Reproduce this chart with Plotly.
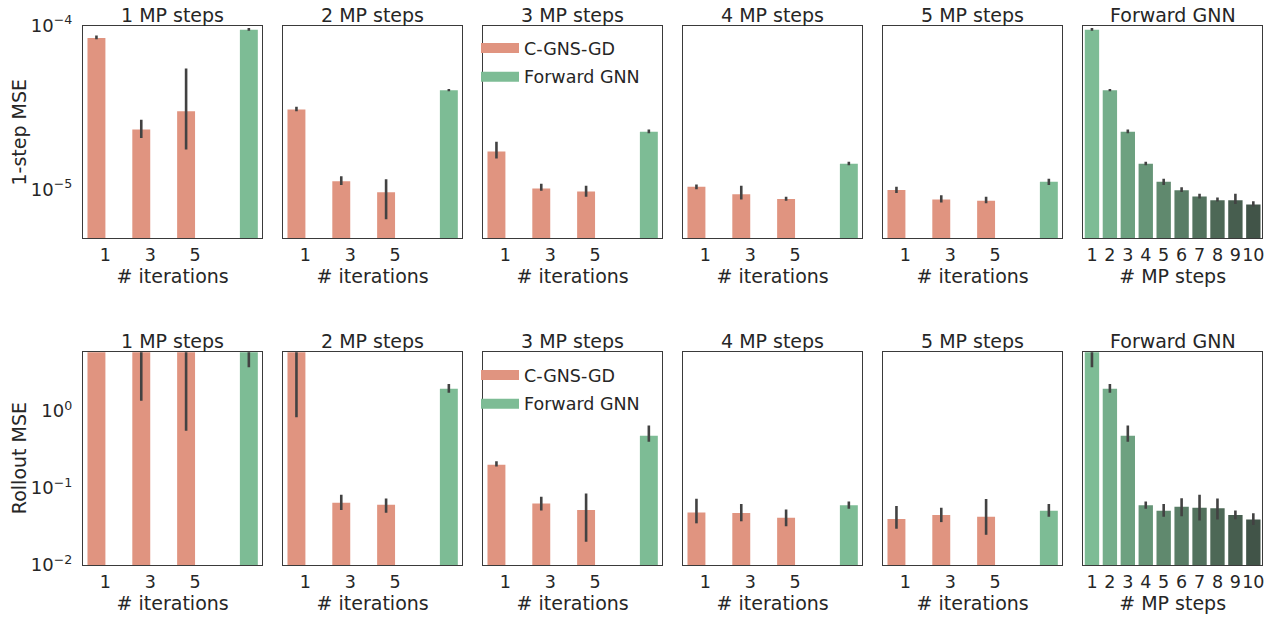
import plotly.graph_objects as go

# ---------------- data ----------------
mp_steps_panels = ["1 MP steps", "2 MP steps", "3 MP steps", "4 MP steps", "5 MP steps"]
iterations = ["1", "3", "5"]
fwd_category = "Forward"
fwd_mp_steps = ["1", "2", "3", "4", "5", "6", "7", "8", "9", "10"]

# 1-step MSE, C-GNS-GD (rows: MP steps 1..5, cols: iterations 1,3,5)
cgns_1step_mean = [[8.4e-5, 2.32e-5, 3.0e-5],
                   [3.07e-5, 1.12e-5, 9.6e-6],
                   [1.7e-5, 1.01e-5, 9.7e-6],
                   [1.035e-5, 9.33e-6, 8.73e-6],
                   [9.88e-6, 8.65e-6, 8.5e-6]]
cgns_1step_lo = [[8.25e-5, 2.06e-5, 1.75e-5],
                 [3.0e-5, 1.06e-5, 6.56e-6],
                 [1.54e-5, 9.8e-6, 9.0e-6],
                 [1.0e-5, 8.65e-6, 8.5e-6],
                 [9.5e-6, 8.3e-6, 8.2e-6]]
cgns_1step_hi = [[8.7e-5, 2.66e-5, 5.47e-5],
                 [3.2e-5, 1.2e-5, 1.15e-5],
                 [1.95e-5, 1.08e-5, 1.05e-5],
                 [1.07e-5, 1.05e-5, 9.0e-6],
                 [1.035e-5, 9.2e-6, 9.0e-6]]

# 1-step MSE, Forward GNN (MP steps 1..10)
fwd_1step_mean = [9.46e-5, 4.03e-5, 2.25e-5, 1.43e-5, 1.11e-5, 9.87e-6, 9.02e-6, 8.57e-6, 8.57e-6, 8.07e-6]
fwd_1step_lo = [9.3e-5, 3.97e-5, 2.2e-5, 1.4e-5, 1.06e-5, 9.63e-6, 8.77e-6, 8.4e-6, 8.13e-6, 7.85e-6]
fwd_1step_hi = [9.68e-5, 4.1e-5, 2.32e-5, 1.475e-5, 1.16e-5, 1.03e-5, 9.38e-6, 8.89e-6, 9.38e-6, 8.45e-6]

# Rollout MSE, C-GNS-GD
cgns_roll_mean = [[30.0, 12.0, 10.0],
                  [8.0, 0.0643, 0.0605],
                  [0.201, 0.063, 0.052],
                  [0.0483, 0.0473, 0.0411],
                  [0.0395, 0.0446, 0.0424]]
cgns_roll_lo = [[20.0, 1.37, 0.557],
                [0.83, 0.052, 0.0476],
                [0.191, 0.051, 0.0201],
                [0.0348, 0.037, 0.032],
                [0.0296, 0.0361, 0.0247]]
cgns_roll_hi = [[45.0, 25.0, 20.0],
                [20.0, 0.0817, 0.073],
                [0.224, 0.0769, 0.085],
                [0.0726, 0.062, 0.0528],
                [0.0584, 0.0555, 0.072]]

# Rollout MSE, Forward GNN
fwd_roll_mean = [6.5, 1.95, 0.48, 0.0596, 0.0507, 0.057, 0.0553, 0.0548, 0.0448, 0.0389]
fwd_roll_lo = [3.72, 1.73, 0.40, 0.054, 0.0424, 0.043, 0.0378, 0.039, 0.0394, 0.033]
fwd_roll_hi = [12.0, 2.26, 0.653, 0.0668, 0.062, 0.074, 0.0817, 0.073, 0.051, 0.047]

row_ylabels = ["1-step MSE", "Rollout MSE"]
row_tickvals = [[1e-5, 1e-4], [1e-2, 1e-1, 1e0]]
row_ticktext = [["10<sup>−5</sup>", "10<sup>−4</sup>"],
                ["10<sup>−2</sup>", "10<sup>−1</sup>", "10<sup>0</sup>"]]
row_log_range = [[-5.3, -4.0], [-2.0, 0.765]]
series_names = ["C-GNS-GD", "Forward GNN"]

# ---------------- style ----------------
W, H = 1276, 619
C_CGNS = "#E09480"
C_FWD = "#7DBC95"
fwd_palette = ["#7DBC95", "#75AE8B", "#6DA180", "#669577", "#60896E",
               "#597D66", "#53725E", "#4D6856", "#475E4F", "#415448"]
TXT = "#262626"
FONT = "DejaVu Sans"
ERR_C = "#424242"
LINE_C = "#3a3a3a"

col_left_px = [83 + 200 * i for i in range(6)]
col_w_px = 179.3
row_top_px = [25.7, 352.3]
row_bot_px = [238.3, 565.0]


def px_x(p):
    return p / W


def px_y(p):
    return 1 - p / H


fig = go.Figure()
layout_axes = {}
annotations = []

panel_idx = 0
for r in range(2):
    if r == 0:
        c_mean, c_lo, c_hi = cgns_1step_mean, cgns_1step_lo, cgns_1step_hi
        f_mean, f_lo, f_hi = fwd_1step_mean, fwd_1step_lo, fwd_1step_hi
    else:
        c_mean, c_lo, c_hi = cgns_roll_mean, cgns_roll_lo, cgns_roll_hi
        f_mean, f_lo, f_hi = fwd_roll_mean, fwd_roll_lo, fwd_roll_hi
    for c in range(6):
        panel_idx += 1
        sfx = "" if panel_idx == 1 else str(panel_idx)
        xa, ya = "x" + sfx, "y" + sfx
        if c < 5:
            m, lo, hi = c_mean[c], c_lo[c], c_hi[c]
            fig.add_trace(go.Bar(
                x=iterations, y=m, xaxis=xa, yaxis=ya,
                alignmentgroup="p%d" % panel_idx, offsetgroup="cgns",
                marker=dict(color=C_CGNS, line=dict(width=0)),
                error_y=dict(type="data", symmetric=False,
                             array=[h - v for h, v in zip(hi, m)],
                             arrayminus=[v - l for v, l in zip(m, lo)],
                             color=ERR_C, thickness=2.6, width=0),
                showlegend=False, name=series_names[0]))
            fig.add_trace(go.Bar(
                x=[fwd_category], y=[f_mean[c]], xaxis=xa, yaxis=ya,
                alignmentgroup="p%d" % panel_idx, offsetgroup="fwd",
                marker=dict(color=C_FWD, line=dict(width=0)),
                error_y=dict(type="data", symmetric=False,
                             array=[f_hi[c] - f_mean[c]],
                             arrayminus=[f_mean[c] - f_lo[c]],
                             color=ERR_C, thickness=2.6, width=0),
                showlegend=False, name=series_names[1]))
            cats = iterations + [fwd_category]
            xtitle = "# iterations"
            title = mp_steps_panels[c]
            tickvals = iterations
        else:
            fig.add_trace(go.Bar(
                x=fwd_mp_steps, y=f_mean, xaxis=xa, yaxis=ya,
                marker=dict(color=fwd_palette, line=dict(width=0)),
                error_y=dict(type="data", symmetric=False,
                             array=[h - v for h, v in zip(f_hi, f_mean)],
                             arrayminus=[v - l for v, l in zip(f_mean, f_lo)],
                             color=ERR_C, thickness=2.6, width=0),
                showlegend=False, name=series_names[1]))
            cats = fwd_mp_steps
            xtitle = "# MP steps"
            title = "Forward GNN"
            tickvals = fwd_mp_steps

        x0 = px_x(col_left_px[c])
        x1 = px_x(col_left_px[c] + col_w_px)
        y0 = px_y(row_bot_px[r])
        y1 = px_y(row_top_px[r])
        layout_axes["xaxis" + sfx] = dict(
            domain=[x0, x1], anchor=ya, type="category",
            categoryorder="array", categoryarray=cats,
            range=[-0.5, len(cats) - 0.5],
            tickmode="array", tickvals=tickvals, ticktext=tickvals,
            tickangle=0,
            showline=True, mirror=True, linecolor=LINE_C, linewidth=1.3,
            showgrid=False, zeroline=False,
            ticks="outside", ticklen=1, tickcolor="rgba(0,0,0,0)",
            tickfont=dict(family=FONT, size=17.5, color=TXT),
            title=dict(text=xtitle, font=dict(family=FONT, size=19, color=TXT), standoff=0),
            automargin=False, fixedrange=True)
        yd = dict(
            domain=[y0, y1], anchor=xa, type="log",
            range=row_log_range[r],
            showline=True, mirror=True, linecolor=LINE_C, linewidth=1.3,
            showgrid=False, zeroline=False,
            ticks="outside", ticklen=6, tickcolor="rgba(0,0,0,0)",
            tickfont=dict(family=FONT, size=18, color=TXT),
            automargin=False, fixedrange=True)
        if c == 0:
            yd.update(tickmode="array", tickvals=row_tickvals[r], ticktext=row_ticktext[r],
                      showticklabels=True)
            # y-axis label placed as rotated text left of the tick labels
            annotations.append(dict(
                text=row_ylabels[r], xref="paper", yref="paper",
                x=px_x(18.5), y=(y0 + y1) / 2, textangle=-90,
                xanchor="center", yanchor="middle", showarrow=False,
                font=dict(family=FONT, size=19, color=TXT)))
        else:
            yd.update(tickmode="array", tickvals=[], ticktext=[], showticklabels=False)
        layout_axes["yaxis" + sfx] = yd

        title_center_px = [14.7, 340.7][r]
        annotations.append(dict(
            text=title, xref="paper", yref="paper",
            x=(x0 + x1) / 2, y=px_y(title_center_px),
            xanchor="center", yanchor="middle", showarrow=False,
            font=dict(family=FONT, size=19, color=TXT)))

# legend-only entries (wide patches, like matplotlib)
for r, leg in enumerate(["legend", "legend2"]):
    for name, col in zip(series_names, [C_CGNS, C_FWD]):
        fig.add_trace(go.Scatter(
            x=[None], y=[None], mode="lines", name=name,
            line=dict(color=col, width=12),
            legend=leg, legendgroup=name + leg, showlegend=True,
            xaxis="x", yaxis="y"))

leg_common = dict(
    bgcolor="rgba(255,255,255,0)", borderwidth=0,
    font=dict(family=FONT, size=17.5, color=TXT),
    xanchor="left", yanchor="top", tracegroupgap=3, itemwidth=38,
    traceorder="grouped")
fig.update_layout(
    legend=dict(x=px_x(476), y=px_y(30), **leg_common),
    legend2=dict(x=px_x(476), y=px_y(357), **leg_common),
)

fig.update_layout(
    width=W, height=H,
    margin=dict(l=0, r=0, t=0, b=0),
    paper_bgcolor="white", plot_bgcolor="white",
    barmode="group", bargap=0.2, bargroupgap=0.0,
    annotations=annotations,
    font=dict(family=FONT, color=TXT),
    **layout_axes)

fig.write_html("out.html",
               config={"displayModeBar": False},
               post_script="document.body.style.margin='0';document.body.style.overflow='hidden';")
